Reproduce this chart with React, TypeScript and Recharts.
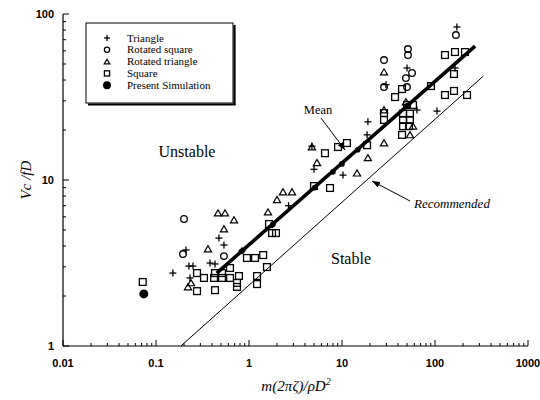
import React from 'react';
import { ScatterChart, Scatter, XAxis, YAxis } from 'recharts';

// ---- tick values / labels ----
const X_MAJOR = [0.01, 0.1, 1, 10, 100, 1000];
const X_LABELS = ['0.01', '0.1', '1', '10', '100', '1000'];
const X_MINOR = [
  0.02, 0.03, 0.04, 0.05, 0.06, 0.07, 0.08, 0.09,
  0.2, 0.3, 0.4, 0.5, 0.6, 0.7, 0.8, 0.9,
  2, 3, 4, 5, 6, 7, 8, 9,
  20, 30, 40, 50, 60, 70, 80, 90,
  200, 300, 400, 500, 600, 700, 800, 900,
];
const Y_MAJOR = [1, 10, 100];
const Y_LABELS = ['1', '10', '100'];
const Y_MINOR = [2, 3, 4, 5, 6, 7, 8, 9, 20, 30, 40, 50, 60, 70, 80, 90];
const X_TICKS = [...X_MAJOR, ...X_MINOR].sort((a, b) => a - b);
const Y_TICKS = [...Y_MAJOR, ...Y_MINOR].sort((a, b) => a - b);

// ---- series ----
const triangleData = [
  { x: 0.152, y: 2.75 }, { x: 0.21, y: 3.79 }, { x: 0.226, y: 3.03 }, { x: 0.25, y: 3.03 },
  { x: 0.232, y: 2.57 }, { x: 0.381, y: 3.16 }, { x: 0.431, y: 3.12 }, { x: 0.475, y: 4.47 },
  { x: 0.538, y: 4.06 }, { x: 0.84, y: 3.75 }, { x: 2.66, y: 7.0 }, { x: 4.75, y: 16.0 },
  { x: 5.0, y: 11.6 }, { x: 10.25, y: 10.7 }, { x: 18.6, y: 18.7 }, { x: 19.0, y: 22.4 },
  { x: 29.7, y: 37.5 }, { x: 50, y: 47.3 }, { x: 64, y: 26.4 }, { x: 105, y: 26.0 },
  { x: 164, y: 47.3 }, { x: 172, y: 83.5 },
];
const rotatedSquareData = [
  { x: 0.2, y: 5.82 }, { x: 0.195, y: 3.58 }, { x: 0.538, y: 3.48 }, { x: 28.3, y: 52.8 },
  { x: 28.3, y: 36.3 }, { x: 51.2, y: 61.5 }, { x: 51.2, y: 56.6 }, { x: 56.6, y: 44.1 },
  { x: 48.7, y: 41.1 }, { x: 50, y: 36.3 }, { x: 168, y: 74.7 },
];
const rotatedTriangleData = [
  { x: 0.221, y: 2.27 }, { x: 0.238, y: 2.4 }, { x: 0.362, y: 3.84 }, { x: 0.464, y: 6.32 },
  { x: 0.552, y: 6.32 }, { x: 0.69, y: 5.74 }, { x: 0.538, y: 5.07 }, { x: 1.6, y: 6.41 },
  { x: 2.0, y: 7.6 }, { x: 2.32, y: 8.47 }, { x: 2.9, y: 8.47 }, { x: 4.75, y: 15.8 },
  { x: 5.38, y: 12.7 }, { x: 14.5, y: 11.0 }, { x: 19.0, y: 13.6 }, { x: 28.3, y: 16.7 },
  { x: 28.3, y: 44.7 }, { x: 28.3, y: 26.4 }, { x: 48.7, y: 29.5 }, { x: 53.8, y: 18.7 },
  { x: 58, y: 21.1 },
];
const squareData = [
  { x: 0.072, y: 2.43 }, { x: 0.276, y: 2.75 }, { x: 0.328, y: 2.57 }, { x: 0.276, y: 2.14 },
  { x: 0.431, y: 2.17 }, { x: 0.431, y: 2.75 }, { x: 0.513, y: 2.75 }, { x: 0.421, y: 2.57 },
  { x: 0.513, y: 2.57 }, { x: 0.625, y: 2.57 }, { x: 0.625, y: 2.95 }, { x: 0.78, y: 2.64 },
  { x: 0.743, y: 2.4 }, { x: 0.743, y: 2.27 }, { x: 0.95, y: 3.39 }, { x: 1.16, y: 3.39 },
  { x: 1.42, y: 3.53 }, { x: 1.56, y: 2.99 }, { x: 1.22, y: 2.64 }, { x: 1.22, y: 2.36 },
  { x: 1.64, y: 5.43 }, { x: 1.77, y: 4.79 }, { x: 1.95, y: 4.79 }, { x: 5.0, y: 9.2 },
  { x: 7.43, y: 8.95 }, { x: 6.56, y: 14.5 }, { x: 9.06, y: 15.8 }, { x: 11.3, y: 16.7 },
  { x: 18.6, y: 16.2 }, { x: 28.3, y: 25.3 }, { x: 28.3, y: 23.0 }, { x: 37.2, y: 31.6 },
  { x: 44.2, y: 35.3 }, { x: 45.3, y: 25.1 }, { x: 53.8, y: 25.1 }, { x: 45.3, y: 23.0 },
  { x: 53.8, y: 23.0 }, { x: 45.3, y: 21.1 }, { x: 52.5, y: 21.1 }, { x: 50, y: 28.3 },
  { x: 58, y: 28.3 }, { x: 44.2, y: 18.7 }, { x: 90.5, y: 36.8 }, { x: 128, y: 56.6 },
  { x: 164, y: 59 }, { x: 210, y: 59 }, { x: 160, y: 43.5 }, { x: 128, y: 32.5 },
  { x: 160, y: 34.4 }, { x: 221, y: 32.5 },
];
const presentData = [{ x: 0.074, y: 2.06 }];
const meanLine = [{ x: 0.45, y: 2.75 }, { x: 270, y: 64 }];
const meanDots = [
  { x: 0.84, y: 3.73 }, { x: 1.81, y: 5.4 }, { x: 5.1, y: 9.0 }, { x: 8.0, y: 11.2 },
  { x: 10, y: 12.5 }, { x: 14.8, y: 15.2 }, { x: 50, y: 28 },
];
const recommendedLine = [{ x: 0.185, y: 1 }, { x: 330, y: 42.2 }];

const MAJOR_LEN = 6;
const MINOR_LEN = 3;
const tickFont: React.CSSProperties = {
  fontFamily: '"Liberation Sans", Arial, sans-serif',
  fontWeight: 'bold',
  fontSize: 11,
  fill: '#000',
};
const serif = '"Liberation Serif", "Times New Roman", serif';

const BottomTick = (p: any) => {
  const { x, y, payload } = p;
  const i = X_MAJOR.indexOf(payload.value);
  const len = i >= 0 ? MAJOR_LEN : MINOR_LEN;
  return (
    <g>
      <line x1={x} x2={x} y1={y} y2={y - len} stroke="#000" strokeWidth={1} />
      {i >= 0 && (
        <text x={x} y={y + 21} textAnchor="middle" style={tickFont}>
          {X_LABELS[i]}
        </text>
      )}
    </g>
  );
};
const TopTick = (p: any) => {
  const { x, y, payload } = p;
  const len = X_MAJOR.indexOf(payload.value) >= 0 ? MAJOR_LEN : MINOR_LEN;
  return <line x1={x} x2={x} y1={y} y2={y + len} stroke="#000" strokeWidth={1} />;
};
const LeftTick = (p: any) => {
  const { x, y, payload } = p;
  const i = Y_MAJOR.indexOf(payload.value);
  const len = i >= 0 ? MAJOR_LEN : MINOR_LEN;
  return (
    <g>
      <line x1={x} x2={x + len} y1={y} y2={y} stroke="#000" strokeWidth={1} />
      {i >= 0 && (
        <text x={x - 9} y={y + 4} textAnchor="end" style={tickFont}>
          {Y_LABELS[i]}
        </text>
      )}
    </g>
  );
};
const RightTick = (p: any) => {
  const { x, y, payload } = p;
  const len = Y_MAJOR.indexOf(payload.value) >= 0 ? MAJOR_LEN : MINOR_LEN;
  return <line x1={x} x2={x - len} y1={y} y2={y} stroke="#000" strokeWidth={1} />;
};

// ---- marker shapes ----
const Plus = ({ cx, cy, s = 3.5 }: any) => (
  <g stroke="#000" strokeWidth={1.3}>
    <line x1={cx - s} x2={cx + s} y1={cy} y2={cy} />
    <line x1={cx} x2={cx} y1={cy - s} y2={cy + s} />
  </g>
);
const Circ = ({ cx, cy, r = 3.3 }: any) => (
  <circle cx={cx} cy={cy} r={r} fill="none" stroke="#000" strokeWidth={1.3} />
);
const Tri = ({ cx, cy, s = 3.6 }: any) => (
  <polygon
    points={`${cx - s},${cy + s * 0.8} ${cx + s},${cy + s * 0.8} ${cx},${cy - s * 0.9}`}
    fill="none"
    stroke="#000"
    strokeWidth={1.2}
  />
);
const Sq = ({ cx, cy, s = 3.4 }: any) => (
  <rect x={cx - s} y={cy - s} width={2 * s} height={2 * s} fill="none" stroke="#000" strokeWidth={1.3} />
);
const Filled = ({ cx, cy, r = 4.5 }: any) => <circle cx={cx} cy={cy} r={r} fill="#000" />;
const SmallDot = ({ cx, cy }: any) => <circle cx={cx} cy={cy} r={2.8} fill="#000" />;
const NoShape = () => <g />;

const legendItems = [
  { label: 'Triangle', kind: 'plus' },
  { label: 'Rotated square', kind: 'circ' },
  { label: 'Rotated triangle', kind: 'tri' },
  { label: 'Square', kind: 'sq' },
  { label: 'Present Simulation', kind: 'filled' },
];

const Overlay = () => (
  <svg
    width={540}
    height={400}
    style={{ position: 'absolute', left: 0, top: 0, pointerEvents: 'none' }}
  >
    <defs>
      <marker id="ah" markerWidth="8" markerHeight="6" refX="8" refY="3" orient="auto" markerUnits="userSpaceOnUse">
        <path d="M0,0 L8,3 L0,6 z" fill="#000" />
      </marker>
    </defs>
    {/* legend */}
    <rect x={86} y={23} width={147} height={80} fill="#fff" stroke="#000" strokeWidth={1} />
    <line x1={234.5} x2={234.5} y1={25} y2={105} stroke="#000" strokeWidth={2.2} />
    <line x1={88} x2={235.5} y1={104.5} y2={104.5} stroke="#000" strokeWidth={2.2} />
    {legendItems.map((it, i) => {
      const cy = 38 + i * 11.8;
      const cx = 107;
      return (
        <g key={it.label}>
          {it.kind === 'plus' && <Plus cx={cx} cy={cy} s={3} />}
          {it.kind === 'circ' && <Circ cx={cx} cy={cy} r={2.6} />}
          {it.kind === 'tri' && <Tri cx={cx} cy={cy} s={2.8} />}
          {it.kind === 'sq' && <Sq cx={cx} cy={cy} s={2.6} />}
          {it.kind === 'filled' && <Filled cx={cx} cy={cy} r={4} />}
          <text x={127} y={cy + 3.6} fontFamily={serif} fontSize={11} fill="#000">
            {it.label}
          </text>
        </g>
      );
    })}
    {/* region labels */}
    <text x={187} y={157} textAnchor="middle" fontFamily={serif} fontSize={16} fill="#000">Unstable</text>
    <text x={351} y={264} textAnchor="middle" fontFamily={serif} fontSize={16} fill="#000">Stable</text>
    <text x={318} y={114} textAnchor="middle" fontFamily={serif} fontSize={12.5} fill="#000">Mean</text>
    <line x1={321} y1={118} x2={345} y2={150} stroke="#000" strokeWidth={1} markerEnd="url(#ah)" />
    <text x={452} y={208} textAnchor="middle" fontFamily={serif} fontStyle="italic" fontSize={13} fill="#000">Recommended</text>
    <line x1={410} y1={201} x2={372} y2={181} stroke="#000" strokeWidth={1} markerEnd="url(#ah)" />
    {/* axis titles */}
    <text
      x={0}
      y={0}
      transform="translate(31,180) rotate(-90)"
      textAnchor="middle"
      fontFamily={serif}
      fontStyle="italic"
      fontSize={15}
      fill="#000"
    >
      Vc /fD
    </text>
    <text x={296} y={391} textAnchor="middle" fontFamily={serif} fontStyle="italic" fontSize={15} fill="#000">
      m(2πζ)/ρD<tspan dy={-6} fontSize={10}>2</tspan>
    </text>
  </svg>
);

export default function App() {
  return (
    <div style={{ position: 'absolute', left: 0, top: 0, width: 540, height: 400, background: '#fff' }}>
      <ScatterChart width={540} height={400} margin={{ top: 14, right: 12, bottom: 0, left: 0 }}>
        <XAxis
          xAxisId={0}
          dataKey="x"
          type="number"
          scale="log"
          domain={[0.01, 1000]}
          allowDataOverflow
          ticks={X_TICKS}
          interval={0}
          tick={<BottomTick />}
          tickLine={false}
          tickSize={0}
          tickMargin={0}
          height={54}
          axisLine={{ stroke: '#000', strokeWidth: 1.2 }}
        />
        <XAxis
          xAxisId="top"
          orientation="top"
          dataKey="x"
          type="number"
          scale="log"
          domain={[0.01, 1000]}
          allowDataOverflow
          ticks={X_TICKS}
          interval={0}
          tick={<TopTick />}
          tickLine={false}
          tickSize={0}
          tickMargin={0}
          height={0}
          axisLine={{ stroke: '#000', strokeWidth: 1.2 }}
        />
        <YAxis
          yAxisId={0}
          dataKey="y"
          type="number"
          scale="log"
          domain={[1, 100]}
          allowDataOverflow
          ticks={Y_TICKS}
          interval={0}
          tick={<LeftTick />}
          tickLine={false}
          tickSize={0}
          tickMargin={0}
          width={63}
          axisLine={{ stroke: '#000', strokeWidth: 1.2 }}
        />
        <YAxis
          yAxisId="right"
          orientation="right"
          dataKey="y"
          type="number"
          scale="log"
          domain={[1, 100]}
          allowDataOverflow
          ticks={Y_TICKS}
          interval={0}
          tick={<RightTick />}
          tickLine={false}
          tickSize={0}
          tickMargin={0}
          width={0}
          axisLine={{ stroke: '#000', strokeWidth: 1.2 }}
        />
        <Scatter
          data={recommendedLine}
          line={{ stroke: '#000', strokeWidth: 1 }}
          shape={<NoShape />}
          isAnimationActive={false}
        />
        <Scatter
          data={meanLine}
          line={{ stroke: '#000', strokeWidth: 3.6 }}
          shape={<NoShape />}
          isAnimationActive={false}
        />
        <Scatter data={meanDots} shape={(p: any) => <SmallDot {...p} />} isAnimationActive={false} />
        <Scatter data={triangleData} shape={(p: any) => <Plus cx={p.cx} cy={p.cy} />} isAnimationActive={false} />
        <Scatter data={rotatedSquareData} shape={(p: any) => <Circ cx={p.cx} cy={p.cy} />} isAnimationActive={false} />
        <Scatter data={rotatedTriangleData} shape={(p: any) => <Tri cx={p.cx} cy={p.cy} />} isAnimationActive={false} />
        <Scatter data={squareData} shape={(p: any) => <Sq cx={p.cx} cy={p.cy} />} isAnimationActive={false} />
        <Scatter data={presentData} shape={(p: any) => <Filled cx={p.cx} cy={p.cy} />} isAnimationActive={false} />
      </ScatterChart>
      <Overlay />
    </div>
  );
}
